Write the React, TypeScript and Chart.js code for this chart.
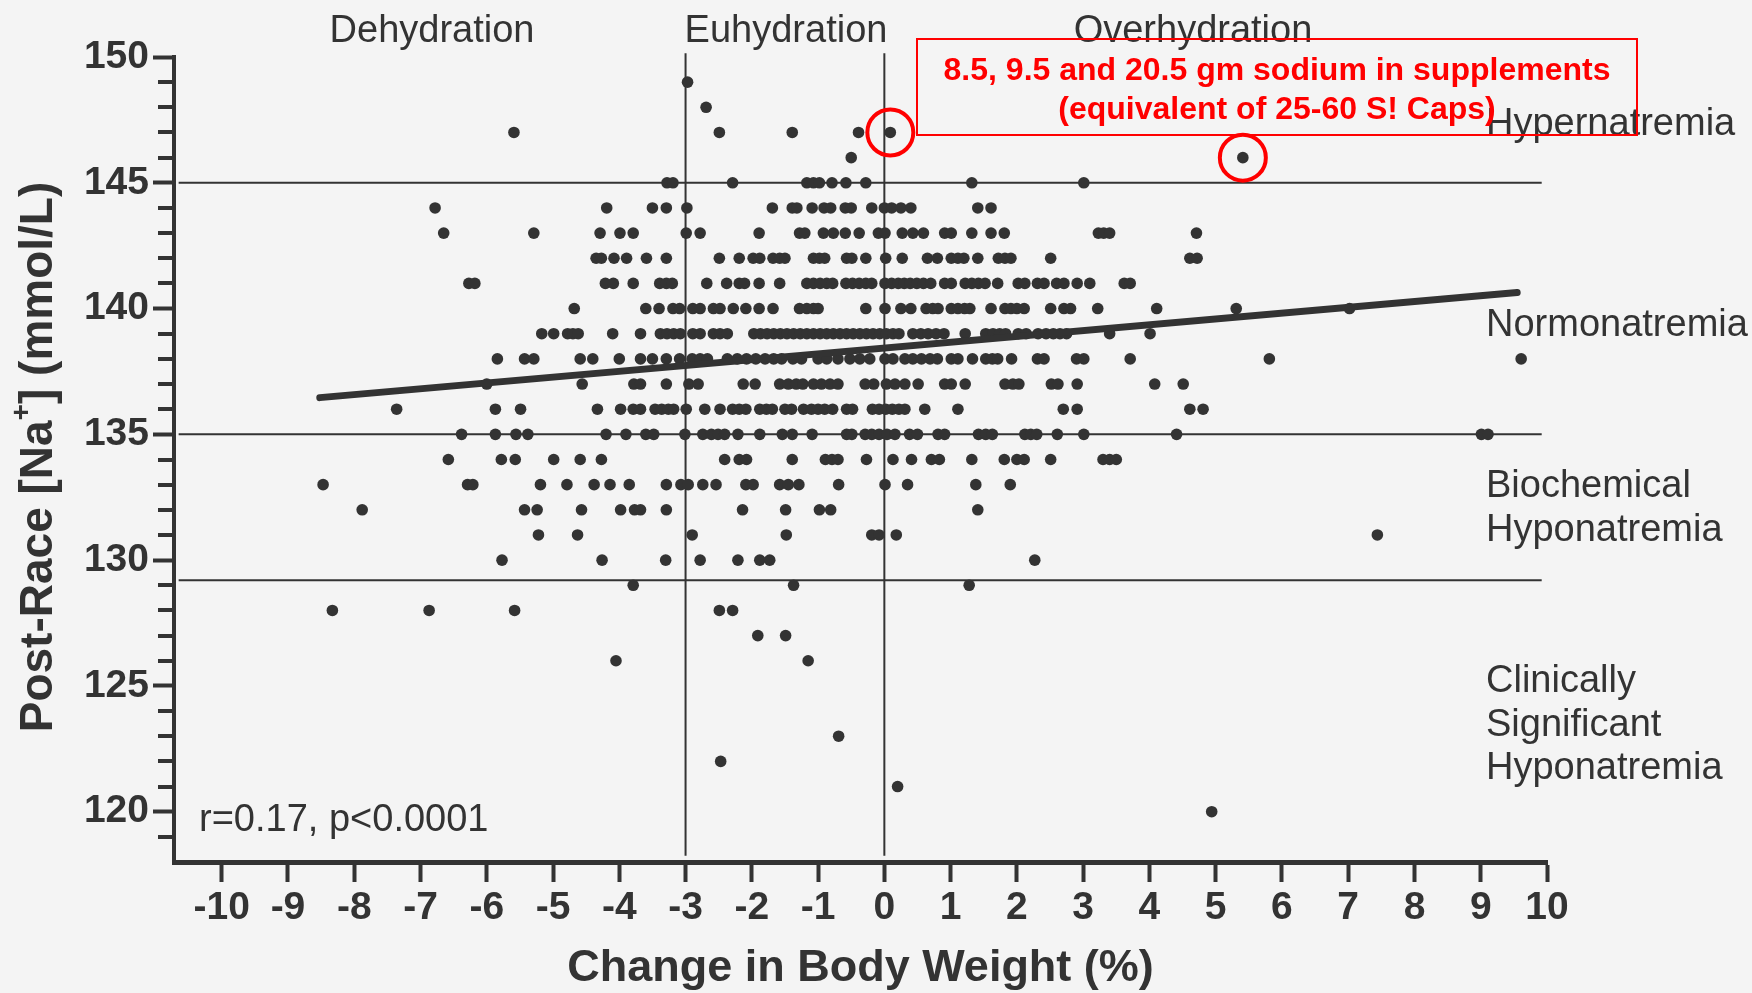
import React, { useEffect, useRef } from 'react';
import { Chart, registerables } from 'chart.js';

Chart.register(...registerables);

const W = 1752;
const H = 993;
const FF = '"Liberation Sans", Arial, Helvetica, sans-serif';
const INK = '#333333';
const RED = '#ff0000';
const BG = '#f4f4f4';

// Change in body weight (%) for each post-race serum sodium level (mmol/L)
const na149 = [-2.97];
const na148 = [-2.69];
const na147 = [-5.59, -2.49, -1.39, -0.39, 0.09];
const na146 = [-0.5, 5.41];
const na145 = [-3.28, -3.19, -2.29, -1.17, -1.07, -0.98, -0.79, -0.58, -0.28, 1.32, 3.01];
const na144 = [-6.78, -4.19, -3.5, -3.29, -2.98, -1.69, -1.39, -1.32, -1.09, -0.91, -0.81, -0.59, -0.5, -0.19, 0.0, 0.11, 0.25, 0.4, 1.41, 1.61];
const na143 = [-6.65, -5.29, -4.29, -3.99, -3.79, -2.99, -2.78, -1.89, -1.28, -1.2, -0.92, -0.77, -0.59, -0.38, -0.09, 0.01, 0.27, 0.43, 0.59, 0.91, 1.01, 1.32, 1.61, 1.81, 3.23, 3.31, 3.4, 4.71];
const na142 = [-4.35, -4.27, -4.08, -3.89, -3.59, -3.29, -2.49, -2.19, -1.98, -1.88, -1.68, -1.58, -1.5, -1.07, -0.98, -0.9, -0.57, -0.49, -0.28, 0.02, 0.27, 0.65, 0.8, 1.01, 1.11, 1.2, 1.41, 1.72, 1.82, 1.91, 2.51, 4.61, 4.72];
const na141 = [-6.27, -6.18, -4.21, -4.09, -3.79, -3.39, -3.29, -3.2, -2.68, -2.38, -2.19, -2.11, -1.89, -1.58, -1.17, -1.07, -0.97, -0.87, -0.78, -0.58, -0.48, -0.38, -0.28, -0.19, 0.01, 0.11, 0.21, 0.3, 0.39, 0.49, 0.59, 0.7, 0.91, 1.01, 1.22, 1.32, 1.42, 1.52, 1.71, 2.02, 2.12, 2.31, 2.41, 2.6, 2.71, 2.91, 3.1, 3.62, 3.71];
const na140 = [-4.68, -3.6, -3.4, -3.19, -3.09, -2.89, -2.78, -2.58, -2.48, -2.28, -2.09, -1.89, -1.68, -1.28, -1.17, -1.07, -1.0, -0.28, 0.01, 0.25, 0.4, 0.63, 0.73, 0.81, 1.01, 1.11, 1.21, 1.29, 1.61, 1.82, 1.91, 2.0, 2.11, 2.51, 2.71, 2.81, 3.22, 4.11, 5.31, 7.02];
const na139 = [-5.17, -4.99, -4.78, -4.7, -4.62, -4.1, -3.68, -3.38, -3.28, -3.18, -3.08, -2.89, -2.78, -2.58, -2.48, -2.37, -1.97, -1.87, -1.77, -1.67, -1.57, -1.47, -1.37, -1.27, -1.17, -1.07, -0.97, -0.87, -0.77, -0.67, -0.57, -0.47, -0.37, -0.27, -0.17, -0.07, 0.03, 0.13, 0.22, 0.43, 0.55, 0.66, 0.78, 0.9, 1.22, 1.53, 1.64, 1.74, 1.83, 2.02, 2.14, 2.32, 2.44, 2.55, 2.65, 2.75, 3.4, 4.01];
const na138 = [-5.84, -5.43, -5.29, -4.59, -4.4, -4.0, -3.68, -3.5, -3.29, -3.09, -2.9, -2.78, -2.67, -2.37, -2.22, -2.08, -1.94, -1.8, -1.67, -1.55, -1.38, -1.25, -1.0, -0.87, -0.7, -0.52, -0.37, -0.22, 0.01, 0.13, 0.31, 0.43, 0.56, 0.69, 0.8, 1.01, 1.11, 1.33, 1.53, 1.63, 1.71, 1.92, 2.31, 2.41, 2.9, 3.01, 3.71, 5.81, 9.61];
const na137 = [-6.0, -4.56, -3.78, -3.68, -3.29, -2.95, -2.81, -2.13, -1.95, -1.58, -1.45, -1.33, -1.23, -1.07, -0.95, -0.82, -0.7, -0.29, -0.16, 0.03, 0.16, 0.31, 0.51, 0.91, 1.01, 1.22, 1.82, 1.94, 2.03, 2.52, 2.62, 2.91, 4.08, 4.51];
const na136 = [-7.36, -5.87, -5.49, -4.33, -3.98, -3.79, -3.68, -3.46, -3.36, -3.26, -3.18, -2.99, -2.71, -2.48, -2.29, -2.19, -2.09, -1.88, -1.78, -1.69, -1.5, -1.4, -1.22, -1.1, -1.0, -0.9, -0.78, -0.57, -0.48, -0.18, -0.08, 0.02, 0.12, 0.22, 0.31, 0.61, 1.11, 2.7, 2.91, 4.61, 4.81];
const na135 = [-6.38, -5.87, -5.56, -5.38, -4.2, -3.9, -3.6, -3.48, -3.01, -2.74, -2.61, -2.51, -2.41, -2.21, -1.88, -1.54, -1.39, -1.09, -0.57, -0.49, -0.29, -0.19, -0.08, 0.04, 0.16, 0.38, 0.5, 0.81, 0.91, 1.42, 1.53, 1.63, 2.12, 2.21, 2.3, 2.61, 3.01, 4.41, 9.01, 9.11];
const na134 = [-6.58, -5.78, -5.57, -4.99, -4.59, -4.27, -2.41, -2.19, -2.08, -1.39, -0.89, -0.79, -0.7, -0.27, 0.13, 0.41, 0.71, 0.83, 1.32, 1.81, 2.0, 2.11, 2.51, 3.3, 3.4, 3.5];
const na133 = [-8.47, -6.29, -6.21, -5.19, -4.79, -4.38, -4.14, -3.85, -3.29, -3.07, -2.96, -2.74, -2.54, -2.09, -1.98, -1.58, -1.45, -1.29, -0.69, 0.01, 0.35, 1.38, 1.9];
const na132 = [-7.88, -5.43, -5.24, -4.57, -3.98, -3.77, -3.68, -3.29, -2.14, -1.49, -0.98, -0.81, 1.41];
const na131 = [-5.22, -4.63, -2.9, -1.48, -0.19, -0.08, 0.18, 7.44];
const na130 = [-5.77, -4.26, -3.3, -2.78, -2.21, -1.88, -1.73, 2.27];
const na129 = [-3.79, -1.37, 1.28];
const na128 = [-8.33, -6.87, -5.58, -2.49, -2.29];
const na127 = [-1.91, -1.49];
const na126 = [-4.05, -1.15];
const na123 = [-0.69];
const na122 = [-2.47];
const na121 = [0.2];
const na120 = [4.94];

const naRows: [number, number[]][] = [
  [149, na149], [148, na148], [147, na147], [146, na146], [145, na145],
  [144, na144], [143, na143], [142, na142], [141, na141], [140, na140],
  [139, na139], [138, na138], [137, na137], [136, na136], [135, na135],
  [134, na134], [133, na133], [132, na132], [131, na131], [130, na130],
  [129, na129], [128, na128], [127, na127], [126, na126], [123, na123],
  [122, na122], [121, na121], [120, na120],
];

// Regression line end points
const trendX = [-8.52, 9.55];
const trendY = [136.46, 140.64];

// Sodium category thresholds and hydration boundaries
const naThresholds = [145, 135, 129.2];
const hydrationBounds = [-3, 0];

// Points circled in red (sodium supplement users)
const circledX = [0.09, 5.41];
const circledY = [147, 146];

// Axes
const xTickValues = [-10, -9, -8, -7, -6, -5, -4, -3, -2, -1, 0, 1, 2, 3, 4, 5, 6, 7, 8, 9, 10];
const yTickValues = [120, 125, 130, 135, 140, 145, 150];
const yMinorTicks = [119, 121, 122, 123, 124, 126, 127, 128, 129, 131, 132, 133, 134, 136, 137, 138, 139, 141, 142, 143, 144, 146, 147, 148, 149];
const X_MIN = -10.72;
const X_MAX = 10;
const Y_MIN = 118;
const Y_MAX = 150;

const hydrationLabels = ['Dehydration', 'Euhydration', 'Overhydration'];
const zoneLabels = [['Hypernatremia'], ['Normonatremia'], ['Biochemical', 'Hyponatremia'], ['Clinically', 'Significant', 'Hyponatremia']];
const statText = 'r=0.17, p<0.0001';
const noteLines = ['8.5, 9.5 and 20.5 gm sodium in supplements', '(equivalent of 25-60 S! Caps)'];

const bgPlugin = {
  id: 'bgFill',
  beforeDraw(chart: any) {
    const ctx = chart.ctx;
    ctx.save();
    ctx.fillStyle = BG;
    ctx.fillRect(0, 0, chart.width, chart.height);
    ctx.restore();
  },
};

const overlayPlugin = {
  id: 'overlayText',
  afterDraw(chart: any) {
    const ctx: CanvasRenderingContext2D = chart.ctx;
    const xs = chart.scales.x;
    const ys = chart.scales.y;
    const left = chart.chartArea.left;
    ctx.save();

    // minor y ticks
    ctx.strokeStyle = INK;
    ctx.lineWidth = 4;
    for (const v of yMinorTicks) {
      const py = Math.round(ys.getPixelForValue(v));
      ctx.beginPath();
      ctx.moveTo(left - 16, py);
      ctx.lineTo(left - 2, py);
      ctx.stroke();
    }

    // hydration labels
    ctx.fillStyle = INK;
    ctx.font = `38px ${FF}`;
    ctx.textAlign = 'center';
    ctx.textBaseline = 'alphabetic';
    const hydX = [432, 786, 1193];
    hydrationLabels.forEach((t, i) => ctx.fillText(t, hydX[i], 42));

    // zone labels on the right
    ctx.textAlign = 'left';
    const zoneBase = [135, 336, 497, 692];
    zoneLabels.forEach((lines, i) => {
      lines.forEach((t, j) => ctx.fillText(t, 1486, zoneBase[i] + j * 43.5));
    });

    // statistics
    ctx.fillText(statText, 199, 831);

    // x axis title
    ctx.font = `bold 45px ${FF}`;
    ctx.textAlign = 'center';
    ctx.fillText('Change in Body Weight (%)', (chart.chartArea.left + chart.chartArea.right) / 2, 981);

    // y axis title with superscript
    ctx.save();
    ctx.translate(52, 457);
    ctx.rotate(-Math.PI / 2);
    ctx.textAlign = 'left';
    const a = 'Post-Race [Na';
    const b = '+';
    const c = '] (mmol/L)';
    ctx.font = `bold 46px ${FF}`;
    const wa = ctx.measureText(a).width;
    const wc = ctx.measureText(c).width;
    ctx.font = `bold 28px ${FF}`;
    const wb = ctx.measureText(b).width;
    const x0 = -(wa + wb + wc) / 2;
    ctx.font = `bold 46px ${FF}`;
    ctx.fillText(a, x0, 0);
    ctx.font = `bold 28px ${FF}`;
    ctx.fillText(b, x0 + wa, -22);
    ctx.font = `bold 46px ${FF}`;
    ctx.fillText(c, x0 + wa + wb, 0);
    ctx.restore();

    // red annotation
    ctx.strokeStyle = RED;
    ctx.lineWidth = 2;
    ctx.strokeRect(917, 39, 720, 96);
    ctx.fillStyle = RED;
    ctx.font = `bold 32px ${FF}`;
    ctx.textAlign = 'center';
    ctx.fillText(noteLines[0], 1277, 80);
    ctx.fillText(noteLines[1], 1277, 119);

    ctx.lineWidth = 4;
    circledX.forEach((cx, i) => {
      const px = xs.getPixelForValue(cx);
      const py = ys.getPixelForValue(circledY[i]);
      ctx.beginPath();
      ctx.arc(px, py, 23, 0, Math.PI * 2);
      ctx.stroke();
    });

    ctx.restore();
  },
};

export default function App() {
  const ref = useRef<HTMLCanvasElement | null>(null);

  useEffect(() => {
    if (!ref.current) return;
    const points = naRows.flatMap(([na, xsv]) => xsv.map((x) => ({ x, y: na })));

    const datasets: any[] = [];
    datasets.push({
      label: 'trend',
      data: trendX.map((x, i) => ({ x, y: trendY[i] })),
      showLine: true,
      borderColor: INK,
      borderWidth: 7,
      borderCapStyle: 'round',
      pointRadius: 0,
      order: 0,
      clip: false,
    });
    datasets.push({
      label: 'runners',
      data: points,
      showLine: false,
      pointRadius: 5.8,
      pointBorderWidth: 0,
      pointBackgroundColor: INK,
      pointBorderColor: INK,
      order: 1,
    });
    naThresholds.forEach((lvl) => {
      datasets.push({
        label: 'na' + lvl,
        data: [{ x: -10.65, y: lvl }, { x: 9.92, y: lvl }],
        showLine: true,
        borderColor: INK,
        borderWidth: 2,
        pointRadius: 0,
        order: 2,
        clip: false,
      });
    });
    hydrationBounds.forEach((b) => {
      datasets.push({
        label: 'hyd' + b,
        data: [{ x: b, y: 118.25 }, { x: b, y: 150.15 }],
        showLine: true,
        borderColor: INK,
        borderWidth: 2,
        pointRadius: 0,
        order: 2,
        clip: false,
      });
    });

    const tickFont = { family: FF, size: 39, weight: 'bold' as const };

    const chart = new Chart(ref.current, {
      type: 'scatter',
      data: { datasets },
      plugins: [bgPlugin, overlayPlugin],
      options: {
        responsive: false,
        animation: false,
        devicePixelRatio: 1,
        events: [],
        layout: { padding: { left: 0, right: W - 1547, top: 57, bottom: 0 } },
        plugins: {
          legend: { display: false },
          tooltip: { enabled: false },
          title: { display: false },
        },
        scales: {
          x: {
            type: 'linear',
            min: X_MIN,
            max: X_MAX,
            afterFit: (s: any) => {
              s.height = H - 862;
            },
            afterBuildTicks: (s: any) => {
              s.ticks = xTickValues.map((v) => ({ value: v }));
            },
            ticks: {
              font: tickFont,
              color: INK,
              padding: 3,
              autoSkip: false,
              maxRotation: 0,
              minRotation: 0,
              callback: (v: any) => String(v),
            },
            grid: {
              drawOnChartArea: false,
              drawTicks: true,
              tickLength: 20,
              tickWidth: 4,
              tickColor: INK,
            },
            border: { display: true, width: 5, color: INK },
          },
          y: {
            type: 'linear',
            min: Y_MIN,
            max: Y_MAX,
            afterFit: (s: any) => {
              s.width = 174;
            },
            afterBuildTicks: (s: any) => {
              s.ticks = yTickValues.map((v) => ({ value: v }));
            },
            ticks: {
              font: tickFont,
              color: INK,
              padding: 4,
              autoSkip: false,
              callback: (v: any) => String(v),
            },
            grid: {
              drawOnChartArea: false,
              drawTicks: true,
              tickLength: 21,
              tickWidth: 4,
              tickColor: INK,
            },
            border: { display: true, width: 4, color: INK },
          },
        },
      } as any,
    });
    return () => chart.destroy();
  }, []);

  return (
    <div style={{ position: 'fixed', left: 0, top: 0, width: W, height: H, background: BG }}>
      <canvas ref={ref} width={W} height={H} style={{ display: 'block', width: W, height: H }} />
    </div>
  );
}
